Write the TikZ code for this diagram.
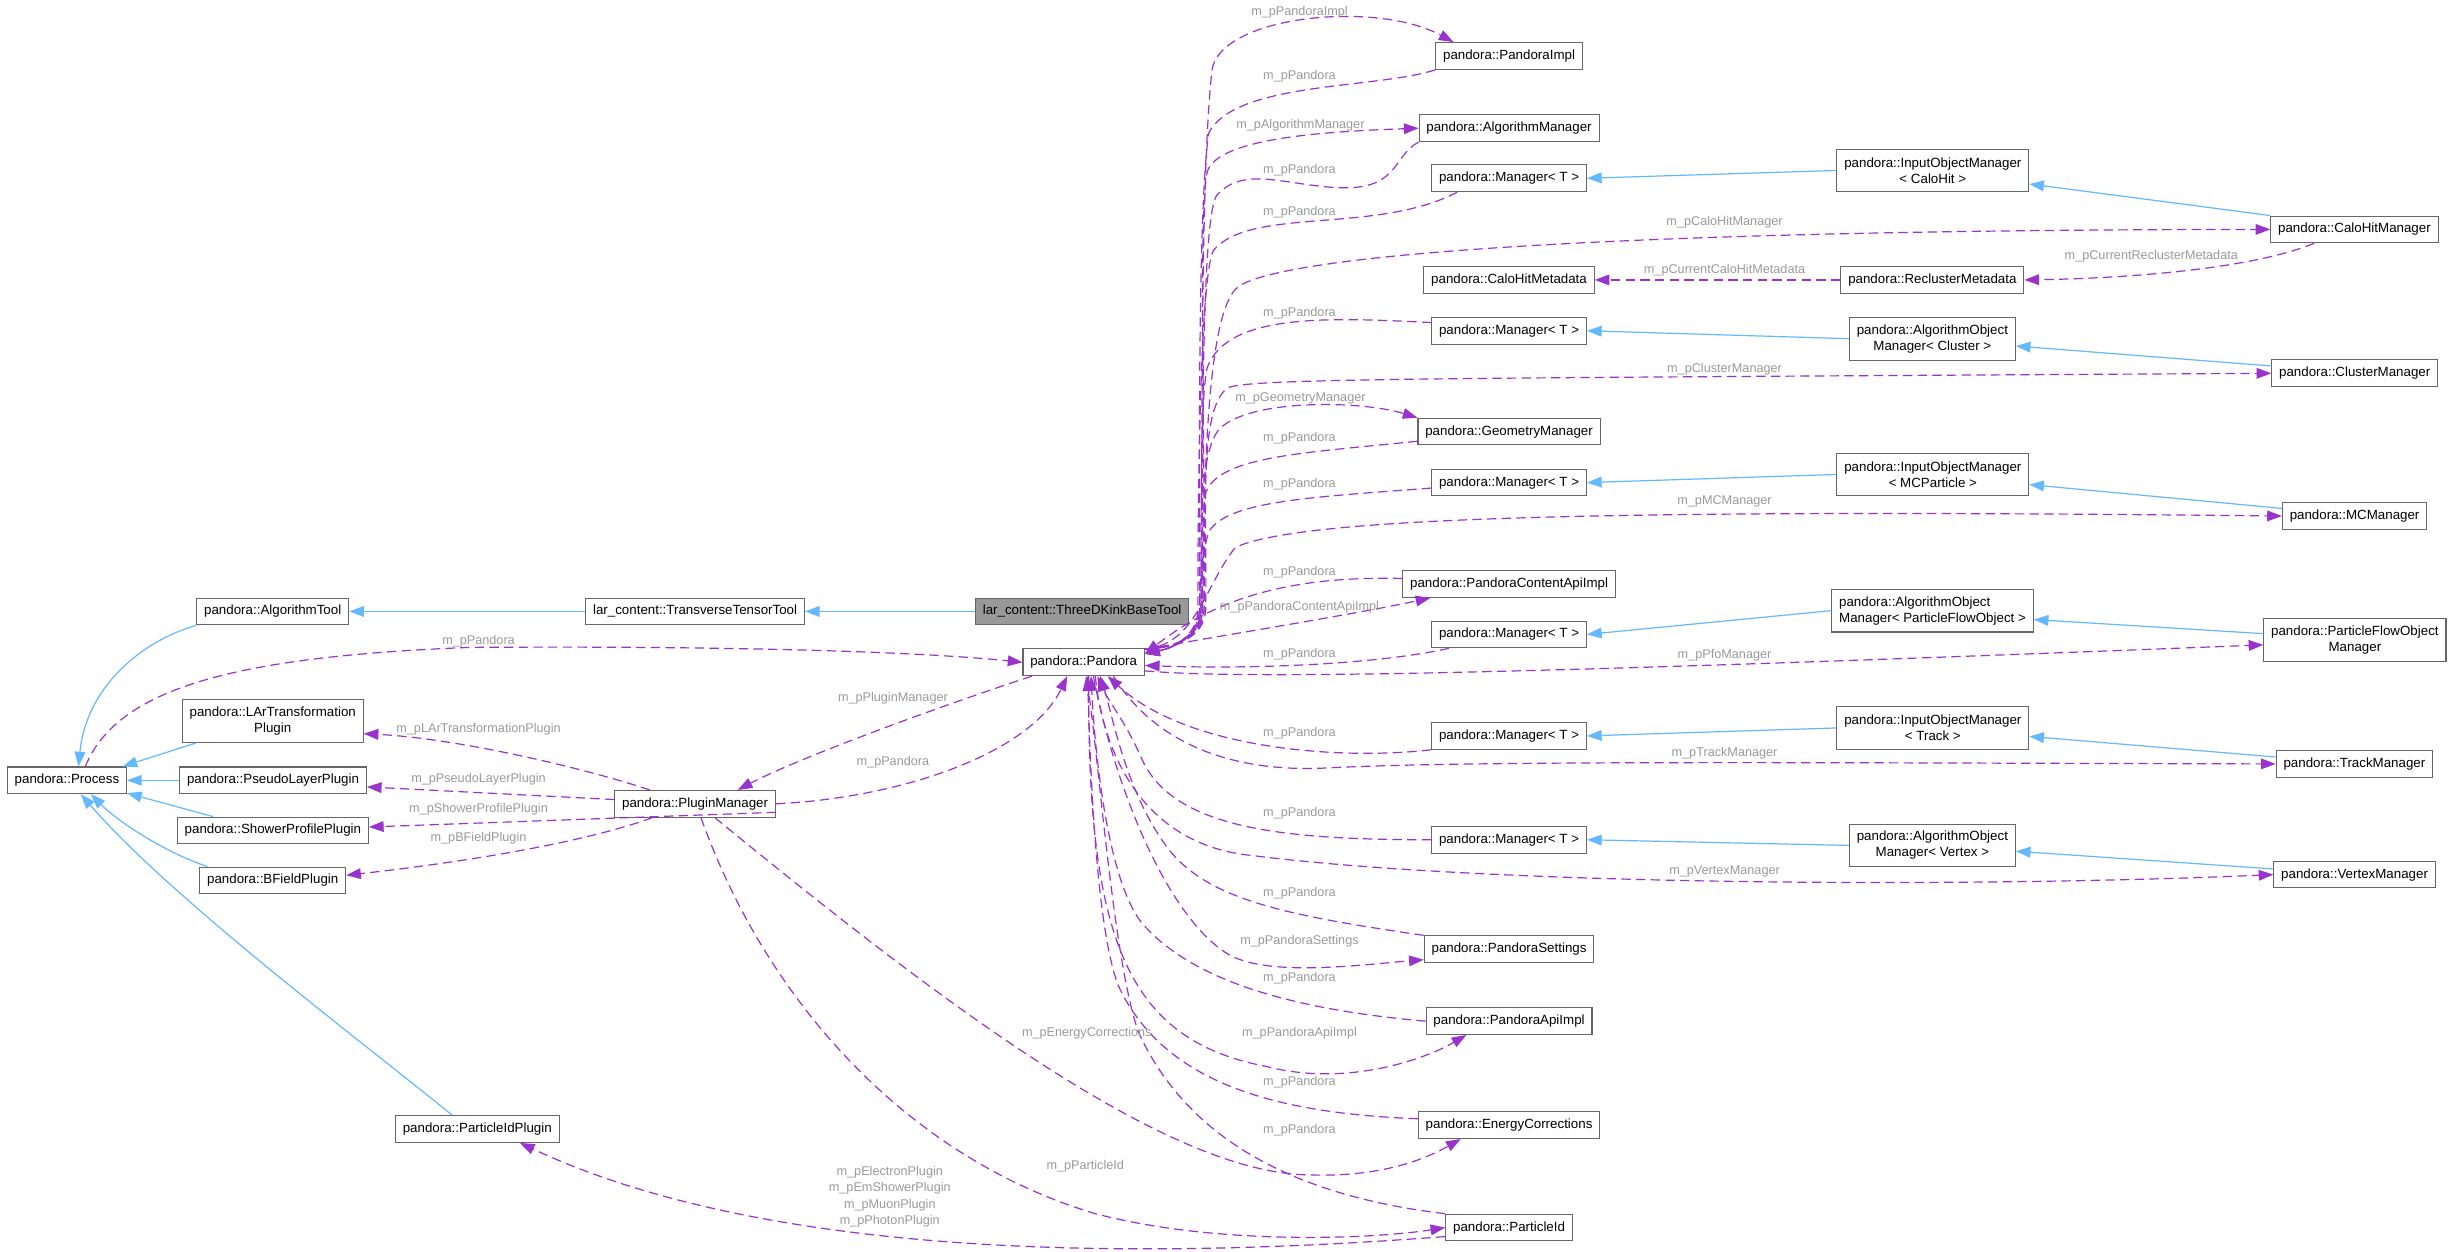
\documentclass[tikz,border=0pt]{standalone}
\usepackage{fontspec}
\setmainfont{Liberation Sans}
\usetikzlibrary{arrows.meta}

\definecolor{edgeblue}{HTML}{63B8FF}
\definecolor{edgepurple}{HTML}{9A32CD}
\definecolor{labelgray}{HTML}{9A9A9A}
\definecolor{nodegray}{HTML}{666666}
\definecolor{mainfill}{HTML}{999999}

\begin{document}
\begin{tikzpicture}[x=1.1728pt,y=-1.1728pt,
  cls/.style={draw=nodegray, line width=0.8pt, fill=white, font=\fontsize{10}{12}\selectfont,
    inner xsep=5.5pt, inner ysep=3pt, minimum height=20pt, align=center},
  cls2/.style={cls, minimum height=32pt},
  lbl/.style={text=labelgray, font=\fontsize{9.5}{12.2}\selectfont, inner sep=0pt, align=center},
  inheritedge/.style={draw=edgeblue, line width=0.9pt, -{Triangle[length=11pt,width=8pt]}},
  memberedge/.style={draw=edgepurple, line width=0.9pt, dash pattern=on 7pt off 4pt,
    -{Triangle[length=11pt,width=8pt]}}]

\path[use as bounding box, fill=white] (0,0) rectangle (1568,800.6);

% left part
\node[cls, fill=mainfill] (kink) at (692,391) {lar\_content::ThreeDKinkBaseTool};
\node[cls] (trans) at (444.5,391) {lar\_content::TransverseTensorTool};
\node[cls] (algtool) at (174.4,391) {pandora::AlgorithmTool};
\node[cls] (process) at (42.8,499) {pandora::Process};
\node[cls2] (lartrans) at (174.4,461) {pandora::LArTransformation\\Plugin};
\node[cls] (pseudolayer) at (174.6,499) {pandora::PseudoLayerPlugin};
\node[cls] (showerprofile) at (174.5,531) {pandora::ShowerProfilePlugin};
\node[cls] (bfield) at (174.4,563) {pandora::BFieldPlugin};
\node[cls] (pluginmgr) at (444.5,514) {pandora::PluginManager};
\node[cls] (pidplugin) at (305.2,722) {pandora::ParticleIdPlugin};
\node[cls] (pandora) at (693,423.5) {pandora::Pandora};

% middle column
\node[cls] (pimpl) at (965,35.8) {pandora::PandoraImpl};
\node[cls] (algmgr) at (965,82) {pandora::AlgorithmManager};
\node[cls] (mgrA) at (965,114) {pandora::Manager< T >};
\node[cls] (calohitmeta) at (965,179) {pandora::CaloHitMetadata};
\node[cls] (mgrB) at (965,211.5) {pandora::Manager< T >};
\node[cls] (geomgr) at (965,276) {pandora::GeometryManager};
\node[cls] (mgrC) at (965,308.6) {pandora::Manager< T >};
\node[cls] (pcai) at (965,373.5) {pandora::PandoraContentApiImpl};
\node[cls] (mgrD) at (965,405.7) {pandora::Manager< T >};
\node[cls] (mgrE) at (965,470.6) {pandora::Manager< T >};
\node[cls] (mgrF) at (965,537) {pandora::Manager< T >};
\node[cls] (settings) at (965,607) {pandora::PandoraSettings};
\node[cls] (apiimpl) at (965,653) {pandora::PandoraApiImpl};
\node[cls] (energycorr) at (965,719.5) {pandora::EnergyCorrections};
\node[cls] (pid) at (965,785) {pandora::ParticleId};

% right columns
\node[cls2] (iomcalo) at (1236,109) {pandora::InputObjectManager\\< CaloHit >};
\node[cls] (calohitmgr) at (1505.6,146.7) {pandora::CaloHitManager};
\node[cls] (reclustermeta) at (1235.7,179) {pandora::ReclusterMetadata};
\node[cls2] (aomcluster) at (1235.7,216.6) {pandora::AlgorithmObject\\Manager< Cluster >};
\node[cls] (clustermgr) at (1505.8,238.7) {pandora::ClusterManager};
\node[cls2] (iommc) at (1236,303.4) {pandora::InputObjectManager\\< MCParticle >};
\node[cls] (mcmgr) at (1505.7,330) {pandora::MCManager};
\node[cls2, align=left] (aompfo) at (1235.8,390.5) {pandora::AlgorithmObject\\Manager< ParticleFlowObject >};
\node[cls2] (pfomgr) at (1505.9,409.3) {pandora::ParticleFlowObject\\Manager};
\node[cls2] (iomtrack) at (1236,465.5) {pandora::InputObjectManager\\< Track >};
\node[cls] (trackmgr) at (1505.6,488.5) {pandora::TrackManager};
\node[cls2] (aomvertex) at (1235.7,540.6) {pandora::AlgorithmObject\\Manager< Vertex >};
\node[cls] (vertexmgr) at (1505.7,559.3) {pandora::VertexManager};

% inheritance
\draw[inheritedge] (trans) -- (algtool);
\draw[inheritedge] (kink) -- (trans);
\draw[inheritedge] (algtool.south west) .. controls (90,410) and (55,440) .. (process.50);
\draw[inheritedge] (lartrans.196) -- (process.14);
\draw[inheritedge] (pseudolayer.west) -- (process.east);
\draw[inheritedge] (showerprofile.167) -- (process.-12);
\draw[inheritedge] (bfield.168) .. controls (105,545) and (75,525) .. (process.-30);
\draw[inheritedge] (pidplugin.151) .. controls (230,665) and (110,575) .. (process.-45);

\draw[inheritedge] (iomcalo.west) -- (mgrA.east);
\draw[inheritedge] (calohitmgr.north west) -- (iomcalo.-8);
\draw[inheritedge] (aomcluster.west) -- (mgrB.east);
\draw[inheritedge] (clustermgr.175) -- (aomcluster.-5);
\draw[inheritedge] (iommc.west) -- (mgrC.east);
\draw[inheritedge] (mcmgr.174) -- (iommc.-6);
\draw[inheritedge] (aompfo.west) -- (mgrD.east);
\draw[inheritedge] (pfomgr.176) -- (aompfo.-5);
\draw[inheritedge] (iomtrack.west) -- (mgrE.east);
\draw[inheritedge] (trackmgr.175) -- (iomtrack.-5);
\draw[inheritedge] (aomvertex.west) -- (mgrF.east);
\draw[inheritedge] (vertexmgr.176) -- (aomvertex.-4);

% plugin manager and process
\draw[memberedge] (process.37) .. controls (75,440) and (150,420) .. (300,414) .. controls (450,413) and (580,416) .. (pandora.west);
\draw[memberedge] (pandora.195) .. controls (600,452) and (510,485) .. (pluginmgr.18);
\draw[memberedge] (pluginmgr.east) .. controls (580,510) and (660,480) .. (pandora.220);
\draw[memberedge] (pluginmgr.163) .. controls (370,490) and (290,472) .. (lartrans.-8);
\draw[memberedge] (pluginmgr.177) -- (pseudolayer.-4);
\draw[memberedge] (pluginmgr.-6) -- (showerprofile.2);
\draw[memberedge] (pluginmgr.198) .. controls (370,540) and (290,552) .. (bfield.4);
\draw[memberedge] (pluginmgr.-35) .. controls (600,640) and (740,745) .. (830,751) .. controls (880,754) and (910,742) .. (energycorr.196);
\draw[memberedge] (pluginmgr.-67) .. controls (490,640) and (580,740) .. (700,776) .. controls (780,797) and (880,792) .. (pid.west);
\draw[memberedge] (pid.188) .. controls (700,808) and (480,800) .. (pidplugin.-18);

% upper bundle
\draw[memberedge] (pandora.12) .. controls (752,414) and (767,408) .. (768,390) .. controls (769,250) and (768,110) .. (775,45) .. controls (780,10) and (880,0) .. (pimpl.166);
\draw[memberedge] (pimpl.south west) .. controls (880,57) and (790,52) .. (773,85) .. controls (766,130) and (767,300) .. (767,390) .. controls (767,405) and (752,414) .. (pandora.8);
\draw[memberedge] (pandora.12) .. controls (752,414) and (769,408) .. (770,390) .. controls (771,300) and (766,140) .. (772,110) .. controls (778,88) and (850,84) .. (algmgr.west);
\draw[memberedge] (algmgr.south west) .. controls (890,100) and (895,122) .. (855,120) .. controls (820,118) and (795,106) .. (778,125) .. controls (768,140) and (769,300) .. (769,390) .. controls (769,405) and (752,414) .. (pandora.8);
\draw[memberedge] (mgrA.195) .. controls (880,150) and (800,132) .. (776,160) .. controls (768,175) and (766,300) .. (766,390) .. controls (766,405) and (752,414) .. (pandora.8);
\draw[memberedge] (pandora.12) .. controls (752,414) and (768,408) .. (769,390) .. controls (770,300) and (772,205) .. (790,185) .. controls (808,165) and (1000,147) .. (calohitmgr.west);
\draw[memberedge] (reclustermeta.west) -- (calohitmeta.east);
\draw[memberedge] (calohitmgr.199) .. controls (1440,172) and (1360,178) .. (reclustermeta.east);
\draw[memberedge] (mgrB.174) .. controls (850,203) and (785,200) .. (772,235) .. controls (768,255) and (768,300) .. (768,390) .. controls (768,405) and (752,414) .. (pandora.8);
\draw[memberedge] (pandora.12) .. controls (752,414) and (770,408) .. (771,390) .. controls (772,330) and (766,262) .. (785,248) .. controls (800,242) and (900,242) .. (clustermgr.west);
\draw[memberedge] (pandora.12) .. controls (752,414) and (767,408) .. (768,390) .. controls (769,340) and (766,290) .. (780,274) .. controls (800,255) and (870,256) .. (geomgr.north west);
\draw[memberedge] (geomgr.186) .. controls (830,290) and (780,292) .. (771,315) .. controls (768,335) and (770,370) .. (770,390) .. controls (770,405) and (752,414) .. (pandora.8);
\draw[memberedge] (mgrC.184) .. controls (840,318) and (785,320) .. (773,340) .. controls (769,352) and (767,375) .. (767,390) .. controls (767,405) and (752,414) .. (pandora.8);
\draw[memberedge] (pandora.12) .. controls (765,412) and (770,375) .. (790,350) .. controls (830,332) and (1000,325) .. (mcmgr.west);
\draw[memberedge] (pcai.177) .. controls (820,368) and (775,385) .. (pandora.8);
\draw[memberedge] (pandora.12) .. controls (790,405) and (870,392) .. (pcai.190);
\draw[memberedge] (mgrD.193) .. controls (880,425) and (800,428) .. (pandora.-3);

% lower right
\draw[memberedge] (pandora.-8) .. controls (800,435) and (1000,430) .. (pfomgr.183);
\draw[memberedge] (mgrE.south west) .. controls (860,486) and (760,480) .. (pandora.-30);
\draw[memberedge] (pandora.-25) .. controls (735,470) and (780,495) .. (850,491) .. controls (950,486) and (1200,488) .. (trackmgr.west);
\draw[memberedge] (mgrF.west) .. controls (820,537) and (750,530) .. (730,485) .. controls (720,462) and (708,447) .. (pandora.-45);
\draw[memberedge] (pandora.-50) .. controls (705,480) and (730,540) .. (800,547) .. controls (950,566) and (1250,568) .. (vertexmgr.west);

% lower fan
\draw[memberedge] (settings.north west) .. controls (820,585) and (770,575) .. (745,540) .. controls (720,505) and (712,460) .. (pandora.-40);
\draw[memberedge] (pandora.-55) .. controls (712,500) and (745,585) .. (785,610) .. controls (810,625) and (870,617) .. (settings.187);
\draw[memberedge] (apiimpl.west) .. controls (820,645) and (760,625) .. (730,590) .. controls (708,562) and (700,480) .. (pandora.-62);
\draw[memberedge] (pandora.-70) .. controls (695,600) and (720,665) .. (810,682) .. controls (860,695) and (910,678) .. (apiimpl.198);
\draw[memberedge] (energycorr.176) .. controls (820,712) and (745,695) .. (715,630) .. controls (700,590) and (697,480) .. (pandora.-75);
\draw[memberedge] (pid.north west) .. controls (830,765) and (760,730) .. (728,660) .. controls (712,615) and (702,480) .. (pandora.-80);

% labels
\node[lbl] (l1) at (306,410) {m\_pPandora};
\node[lbl] (l2) at (571,446.5) {m\_pPluginManager};
\node[lbl] (l3) at (571,487.7) {m\_pPandora};
\node[lbl] (l4) at (306,466) {m\_pLArTransformationPlugin};
\node[lbl] (l5) at (306,498.2) {m\_pPseudoLayerPlugin};
\node[lbl] (l6) at (306,517.6) {m\_pShowerProfilePlugin};
\node[lbl] (l7) at (306,536.3) {m\_pBFieldPlugin};
\node[lbl] (l8) at (695,661) {m\_pEnergyCorrections};
\node[lbl] (l9) at (694,745.7) {m\_pParticleId};
\node[lbl] (l10) at (569,765.3) {m\_pElectronPlugin\\m\_pEmShowerPlugin\\m\_pMuonPlugin\\m\_pPhotonPlugin};
\node[lbl] (l11) at (831,8) {m\_pPandoraImpl};
\node[lbl] (l12) at (831,49) {m\_pPandora};
\node[lbl] (l13) at (831.6,80) {m\_pAlgorithmManager};
\node[lbl] (l14) at (831,108.7) {m\_pPandora};
\node[lbl] (l15) at (831,136) {m\_pPandora};
\node[lbl] (l16) at (1102.8,141.8) {m\_pCaloHitManager};
\node[lbl] (l17) at (1102.8,173) {m\_pCurrentCaloHitMetadata};
\node[lbl] (l18) at (1375.7,164.1) {m\_pCurrentReclusterMetadata};
\node[lbl] (l19) at (831,200.4) {m\_pPandora};
\node[lbl] (l20) at (1102.8,235.8) {m\_pClusterManager};
\node[lbl] (l21) at (831.6,254.5) {m\_pGeometryManager};
\node[lbl] (l22) at (831,280.5) {m\_pPandora};
\node[lbl] (l23) at (831,309.7) {m\_pPandora};
\node[lbl] (l24) at (1102.8,320.8) {m\_pMCManager};
\node[lbl] (l25) at (831,366.2) {m\_pPandora};
\node[lbl] (l26) at (831,388) {m\_pPandoraContentApiImpl};
\node[lbl] (l27) at (831,418.2) {m\_pPandora};
\node[lbl] (l28) at (1102.8,418.9) {m\_pPfoManager};
\node[lbl] (l29) at (831,469) {m\_pPandora};
\node[lbl] (l30) at (1102.8,481.8) {m\_pTrackManager};
\node[lbl] (l31) at (831,520.1) {m\_pPandora};
\node[lbl] (l32) at (1102.8,557.5) {m\_pVertexManager};
\node[lbl] (l33) at (831,571.3) {m\_pPandora};
\node[lbl] (l34) at (831,601.7) {m\_pPandoraSettings};
\node[lbl] (l35) at (831,625.4) {m\_pPandora};
\node[lbl] (l36) at (831,661) {m\_pPandoraApiImpl};
\node[lbl] (l37) at (831,692) {m\_pPandora};
\node[lbl] (l38) at (831,722.5) {m\_pPandora};

\end{tikzpicture}
\end{document}
